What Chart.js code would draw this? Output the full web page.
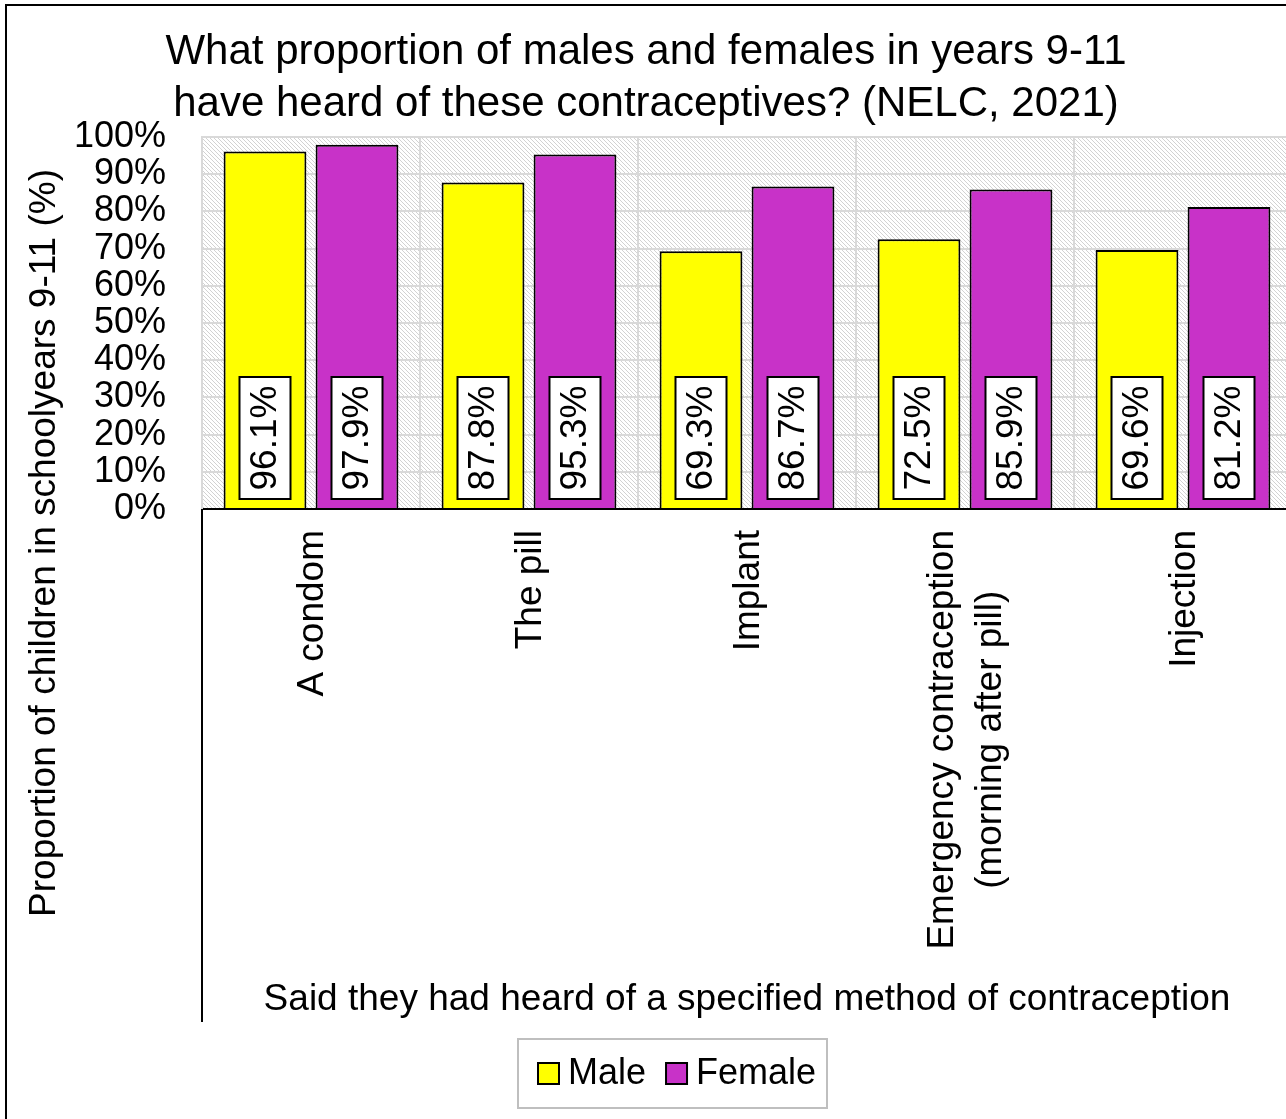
<!DOCTYPE html>
<html>
<head>
<meta charset="utf-8">
<script src="https://cdn.jsdelivr.net/npm/chart.js@4.4.0/dist/chart.umd.min.js"></script>
<style>
  html, body { margin: 0; padding: 0; background: #fff; overflow: hidden; }
  canvas { display: block; }
</style>
</head>
<body>
<canvas id="barChart" width="1300" height="1119"></canvas>
<script>
const categories = ['A condom', 'The pill', 'Implant', ['Emergency contraception', '(morning after pill)'], 'Injection'];
const maleValues = [96.1, 87.8, 69.3, 72.5, 69.6];
const femaleValues = [97.9, 95.3, 86.7, 85.9, 81.2];
const seriesNames = ['Male', 'Female'];
const seriesColours = ['#FFFF00', '#C832C8'];

const fontFamily = "'Liberation Sans', Arial, sans-serif";

// light downward diagonal fill behind the bars
let hatch = document.createElement('canvas');
hatch.width = 4;
hatch.height = 4;
let hctx = hatch.getContext('2d');
hctx.fillStyle = '#ffffff';
hctx.fillRect(0, 0, 4, 4);
hctx.fillStyle = '#d2d2d2';
for (let i = 0; i < 4; i++) hctx.fillRect(i, i, 1, 1);

const decor = {
    id: 'decor',
    beforeDraw(chart) {
        const { ctx, chartArea: a } = chart;
        ctx.save();
        ctx.fillStyle = '#ffffff';
        ctx.fillRect(0, 0, chart.width, chart.height);
        ctx.fillStyle = ctx.createPattern(hatch, 'repeat');
        ctx.fillRect(a.left, a.top, a.right - a.left, a.bottom - a.top);
        ctx.restore();
    },
    afterDatasetsDraw(chart) {
        // value labels in white boxes near the bar base
        const ctx = chart.ctx;
        ctx.save();
        ctx.font = '37px ' + fontFamily;
        chart.data.datasets.forEach((ds, d) => {
            chart.getDatasetMeta(d).data.forEach((bar, i) => {
                const p = bar.getProps(['x', 'base'], true);
                const w = 51, h = 122;
                const bottom = p.base - 9;
                ctx.fillStyle = '#ffffff';
                ctx.fillRect(p.x - w / 2, bottom - h, w, h);
                ctx.strokeStyle = '#000000';
                ctx.lineWidth = 2;
                ctx.strokeRect(p.x - w / 2, bottom - h, w, h);
                ctx.save();
                ctx.translate(p.x + 1, bottom - h / 2);
                ctx.rotate(-Math.PI / 2);
                ctx.fillStyle = '#000000';
                ctx.textAlign = 'center';
                ctx.textBaseline = 'middle';
                ctx.fillText(ds.data[i].toFixed(1) + '%', 0, 0);
                ctx.restore();
            });
        });
        ctx.restore();
    },
    afterDraw(chart) {
        const { ctx, chartArea: a } = chart;
        const xs = chart.scales.x;
        ctx.save();
        ctx.fillStyle = '#000000';

        // category labels, rotated, lines centred on each other
        ctx.font = '37px ' + fontFamily;
        ctx.textAlign = 'center';
        ctx.textBaseline = 'middle';
        xs.getLabels().forEach((lab, i) => {
            const lines = Array.isArray(lab) ? lab : [lab];
            const w = Math.max(...lines.map(l => ctx.measureText(l).width));
            ctx.save();
            ctx.translate(xs.getPixelForValue(i) + 2, a.bottom + 21);
            ctx.rotate(-Math.PI / 2);
            lines.forEach((l, j) => ctx.fillText(l, -w / 2, (j - (lines.length - 1) / 2) * 48));
            ctx.restore();
        });

        // y axis title
        ctx.save();
        ctx.translate(45, 543);
        ctx.rotate(-Math.PI / 2);
        ctx.fillText('Proportion of children in schoolyears 9-11 (%)', 0, 0);
        ctx.restore();

        // line down the side of the label area
        ctx.strokeStyle = '#000000';
        ctx.lineWidth = 2;
        ctx.beginPath();
        ctx.moveTo(a.left, a.bottom);
        ctx.lineTo(a.left, xs.bottom);
        ctx.stroke();

        // legend
        ctx.strokeStyle = '#bfbfbf';
        ctx.strokeRect(518, 1039, 309, 69);
        ctx.font = '36px ' + fontFamily;
        ctx.textAlign = 'left';
        let lx = 538;
        chart.data.datasets.forEach(ds => {
            ctx.fillStyle = ds.backgroundColor;
            ctx.fillRect(lx, 1063, 21, 21);
            ctx.strokeStyle = '#000000';
            ctx.strokeRect(lx, 1063, 21, 21);
            ctx.fillStyle = '#000000';
            ctx.fillText(ds.label, lx + 30, 1074);
            lx += 30 + ctx.measureText(ds.label).width + 20;
        });

        // outer frame
        ctx.strokeStyle = '#000000';
        ctx.strokeRect(6, 5, 1500, 1500);
        ctx.restore();
    }
};

let barChart = new Chart(document.getElementById('barChart'), {
    type: 'bar',
    data: {
        labels: categories,
        datasets: [
            {
                label: seriesNames[0],
                data: maleValues,
                backgroundColor: seriesColours[0],
                borderColor: '#000000',
                borderWidth: 2
            },
            {
                label: seriesNames[1],
                data: femaleValues,
                backgroundColor: seriesColours[1],
                borderColor: '#000000',
                borderWidth: 2
            }
        ]
    },
    options: {
        responsive: false,
        animation: false,
        categoryPercentage: 0.844,
        barPercentage: 0.9,
        layout: { padding: { top: 0, left: 0, right: 8, bottom: 97 } },
        plugins: {
            legend: { display: false },
            tooltip: { enabled: false },
            title: {
                display: true,
                text: ['What proportion of males and females in years 9-11', 'have heard of these contraceptives? (NELC, 2021)'],
                color: '#000000',
                font: { family: fontFamily, size: 42, weight: 'normal', lineHeight: 1.25 },
                padding: { top: 26, bottom: 6 }
            }
        },
        scales: {
            x: {
                grid: { color: '#d9d9d9', lineWidth: 2, drawTicks: false },
                border: { color: '#000000', width: 2 },
                ticks: { display: false },
                title: {
                    display: true,
                    text: 'Said they had heard of a specified method of contraception',
                    color: '#000000',
                    font: { family: fontFamily, size: 37 },
                    padding: 0
                },
                afterFit: s => { s.height = 513; }
            },
            y: {
                min: 0,
                max: 100,
                grid: { color: '#d9d9d9', lineWidth: 2, drawTicks: false },
                border: { color: '#d9d9d9', width: 2 },
                ticks: {
                    stepSize: 10,
                    autoSkip: false,
                    padding: 36,
                    color: '#000000',
                    font: { family: fontFamily, size: 36, lineHeight: 1 },
                    callback: v => v + '%'
                },
                afterFit: s => { s.width = 202; }
            }
        }
    },
    plugins: [decor]
});
</script>
</body>
</html>
